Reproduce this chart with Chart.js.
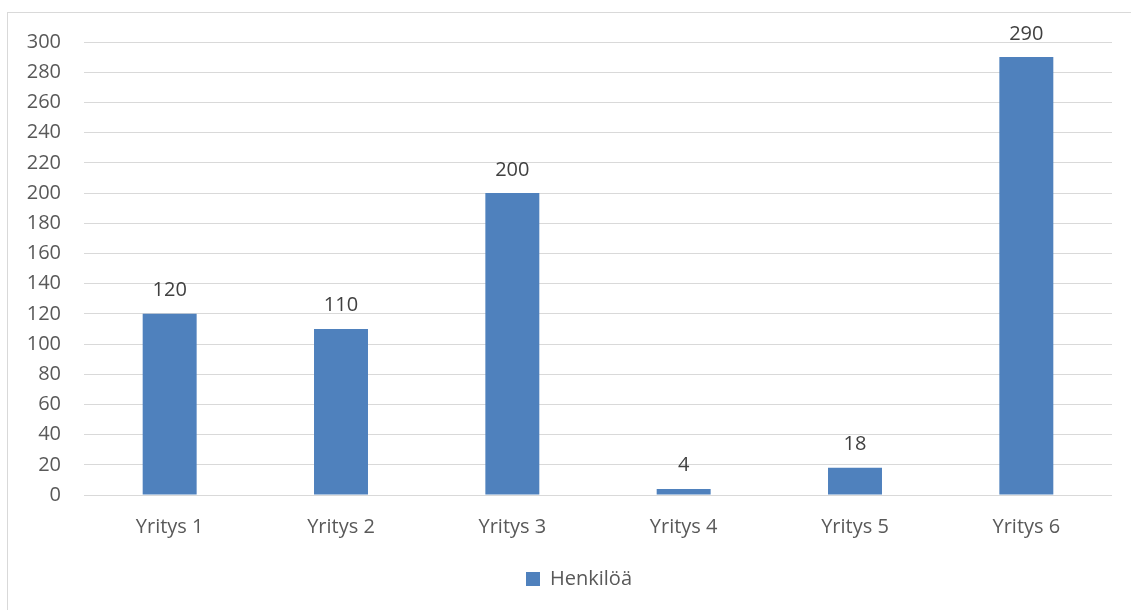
<!DOCTYPE html>
<html lang="fi">
<head>
    <meta charset="UTF-8">
    <title>Henkilöä</title>
    <script src="https://cdn.jsdelivr.net/npm/chart.js"></script>
    <style>
        body {
            margin: 0;
            background: #ffffff;
            font-family: 'Open Sans', sans-serif;
        }
        .frame {
            position: absolute;
            left: 7px;
            top: 12px;
            width: 1140px;
            height: 620px;
            border: 1px solid #d9d9d9;
        }
        .chart-container {
            position: absolute;
            left: 0;
            top: 0;
            width: 1131px;
            height: 610px;
        }
    </style>
</head>
<body>
    <div class="frame"></div>
    <div class="chart-container">
        <canvas id="henkilotChart"></canvas>
    </div>

    <script>
        // Datat
        const yritykset = ['Yritys 1', 'Yritys 2', 'Yritys 3', 'Yritys 4', 'Yritys 5', 'Yritys 6'];
        const henkiloa = [120, 110, 200, 4, 18, 290];
        const sarjanNimi = 'Henkilöä';
        const yMin = 0;
        const yMax = 300;
        const yAskel = 20;

        const tekstiVari = '#595959';
        const palkkiVari = '#4f81bd';

        // Arvot palkkien yläpuolelle
        const arvoPlugin = {
            id: 'arvot',
            afterDatasetsDraw(chart) {
                const ctx = chart.ctx;
                ctx.save();
                ctx.font = '20px "Open Sans", sans-serif';
                ctx.fillStyle = '#404040';
                ctx.textAlign = 'center';
                ctx.textBaseline = 'alphabetic';
                chart.getDatasetMeta(0).data.forEach((bar, i) => {
                    ctx.fillText(String(henkiloa[i]), bar.x, bar.y - 17.5);
                });
                ctx.restore();
            }
        };

        // Selite keskelle koko kehystä, ei vain piirtoaluetta
        const seliteSiirto = {
            id: 'seliteSiirto',
            afterLayout(chart) {
                if (chart.legend) {
                    chart.legend.left += 23;
                    chart.legend.right += 23;
                }
            }
        };

        const ctx = document.getElementById('henkilotChart').getContext('2d');
        new Chart(ctx, {
            type: 'bar',
            data: {
                labels: yritykset,
                datasets: [{
                    label: sarjanNimi,
                    data: henkiloa,
                    backgroundColor: palkkiVari,
                    borderWidth: 0,
                    barPercentage: 1,
                    categoryPercentage: 0.315
                }]
            },
            options: {
                responsive: true,
                maintainAspectRatio: false,
                animation: false,
                layout: {
                    padding: { left: 0, right: 19, top: 42, bottom: 11 }
                },
                plugins: {
                    tooltip: { enabled: false },
                    legend: {
                        position: 'bottom',
                        labels: {
                            boxWidth: 14,
                            boxHeight: 14,
                            padding: 10,
                            color: tekstiVari,
                            font: { family: 'Open Sans', size: 20 }
                        }
                    }
                },
                scales: {
                    x: {
                        grid: { display: false, drawTicks: false },
                        border: { display: false },
                        ticks: {
                            color: tekstiVari,
                            padding: 20,
                            font: { family: 'Open Sans', size: 20 }
                        },
                        afterFit(scale) { scale.height = 64; }
                    },
                    y: {
                        min: yMin,
                        max: yMax,
                        grid: { color: '#d9d9d9', drawTicks: false },
                        border: { display: false },
                        ticks: {
                            stepSize: yAskel,
                            color: tekstiVari,
                            padding: 23,
                            font: { family: 'Open Sans', size: 20 }
                        },
                        afterFit(scale) { scale.width = 84; }
                    }
                }
            },
            plugins: [arvoPlugin, seliteSiirto]
        });
    </script>
</body>
</html>
